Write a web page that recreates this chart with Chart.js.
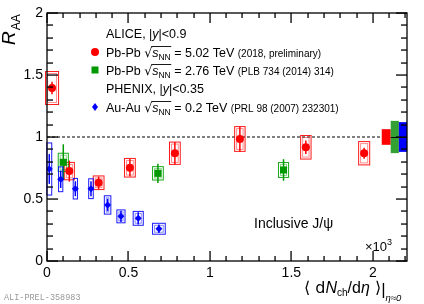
<!DOCTYPE html>
<html>
<head>
<meta charset="utf-8">
<script src="https://cdn.jsdelivr.net/npm/chart.js@4.4.1/dist/chart.umd.min.js"></script>
<style>
  body { margin: 0; background: #fff; }
</style>
</head>
<body>
<canvas id="raaChart" width="424" height="304"></canvas>
<script>
// ALICE Pb-Pb 5.02 TeV (2018, preliminary)
const pb502X = [0.031, 0.137, 0.317, 0.509, 0.785, 1.184, 1.589, 1.947];
const pb502Y = [1.395, 0.725, 0.631, 0.752, 0.869, 0.984, 0.917, 0.869];
const pb502Stat = [0.05, 0.085, 0.05, 0.07, 0.09, 0.1, 0.054, 0.045];
const pb502Sys = [0.133, 0.07, 0.055, 0.075, 0.09, 0.1, 0.095, 0.094];
const pb502SysX = [0.04, 0.031, 0.033, 0.033, 0.033, 0.032, 0.032, 0.034];

// ALICE Pb-Pb 2.76 TeV (PLB 734 (2014) 314)
const pb276X = [0.100, 0.681, 1.452];
const pb276Y = [0.796, 0.707, 0.734];
const pb276Stat = [0.145, 0.077, 0.087];
const pb276Sys = [0.073, 0.054, 0.06];
const pb276SysX = [0.031, 0.033, 0.031];

// PHENIX Au-Au 0.2 TeV (PRL 98 (2007) 232301)
const auauX = [0.014, 0.084, 0.174, 0.270, 0.372, 0.454, 0.560, 0.687];
const auauY = [0.742, 0.659, 0.583, 0.583, 0.452, 0.360, 0.344, 0.260];
const auauStat = [0.12, 0.07, 0.06, 0.06, 0.05, 0.045, 0.05, 0.035];
const auauSys = [0.21, 0.1, 0.083, 0.08, 0.074, 0.052, 0.056, 0.044];
const auauSysX = [0.015, 0.013, 0.013, 0.014, 0.02, 0.025, 0.031, 0.039];

// global (correlated) uncertainties drawn at R_AA = 1
const globalSys = [0.063, 0.13, 0.12];
const globalFrom = [2.055, 2.11, 2.16];
const globalTo = [2.11, 2.16, 2.21];

const xTicks = [0, 0.5, 1, 1.5, 2];
const yTicks = [0, 0.5, 1, 1.5, 2];

const RED = "#ff0000", GREEN = "#009900", BLUE = "#0000ff";
const FONT = '"Liberation Sans", Arial, sans-serif';

function pts(xs, ys) {
  return xs.map((x, i) => ({ x: x, y: ys[i] }));
}

const series = [
  { x: pb502X, y: pb502Y, stat: pb502Stat, sys: pb502Sys, sx: pb502SysX, c: RED, box: "rgba(255,0,0," },
  { x: pb276X, y: pb276Y, stat: pb276Stat, sys: pb276Sys, sx: pb276SysX, c: GREEN, box: "rgba(0,160,0," },
  { x: auauX, y: auauY, stat: auauStat, sys: auauSys, sx: auauSysX, c: BLUE, box: "rgba(0,0,255," },
];

function drawRich(ctx, x, y, segs) {
  segs.forEach(s => {
    ctx.font = s.f;
    ctx.fillText(s.t, x, y + (s.dy || 0));
    s.x0 = x;
    x += ctx.measureText(s.t).width;
    s.x1 = x;
  });
  return segs;
}

function sqrtsLine(ctx, x, y, label, energy, ref) {
  const big = "12.5px " + FONT;
  const segs = drawRich(ctx, x, y, [
    { t: label + " ", f: big },
    { t: "\u221A", f: '12.5px "DejaVu Sans", sans-serif' },
    { t: "s", f: "italic " + big },
    { t: "NN", f: "8.5px " + FONT, dy: 3 },
    { t: " = " + energy + " TeV ", f: big },
    { t: ref, f: "10px " + FONT },
  ]);
  ctx.fillRect(segs[1].x1 - 1, y - 11, segs[3].x1 - segs[1].x1 + 1.5, 0.9);
}

// inward ROOT-style ticks on all four sides
function drawAxisTicks(ctx, a, x, y) {
  ctx.save();
  ctx.fillStyle = "#000";
  const L = Math.round(a.left), R = Math.round(a.right);
  const T = Math.round(a.top), B = Math.round(a.bottom);
  for (let k = 0; k <= 22; k++) {
    const px = Math.round(x.getPixelForValue(k / 10));
    const len = k % 5 === 0 ? 10 : 5;
    ctx.fillRect(px - 0.6, B - len, 1.3, len);
    ctx.fillRect(px - 0.6, T, 1.3, len);
  }
  for (let k = 0; k <= 20; k++) {
    const py = Math.round(y.getPixelForValue(k / 10));
    const len = k % 5 === 0 ? 11 : 6;
    ctx.fillRect(L, py - 0.6, len, 1.3);
    ctx.fillRect(R - len, py - 0.6, len, 1.3);
  }
  ctx.restore();
}

const rootStyle = {
  id: "rootStyle",
  beforeDatasetsDraw(chart) {
    const { ctx, chartArea: a, scales: { x, y } } = chart;
    ctx.save();
    // reference line at 1
    ctx.strokeStyle = "#000";
    ctx.lineWidth = 1;
    ctx.setLineDash([3, 2]);
    ctx.beginPath();
    ctx.moveTo(a.left, y.getPixelForValue(1));
    ctx.lineTo(a.right, y.getPixelForValue(1));
    ctx.stroke();
    ctx.setLineDash([]);
    // systematic boxes and statistical bars
    series.forEach(s => {
      s.x.forEach((xv, i) => {
        const l = x.getPixelForValue(xv - s.sx[i]);
        const r = x.getPixelForValue(xv + s.sx[i]);
        const t = y.getPixelForValue(s.y[i] + s.sys[i]);
        const b = y.getPixelForValue(s.y[i] - s.sys[i]);
        ctx.lineWidth = 1;
        ctx.strokeStyle = s.box + "0.9)";
        ctx.strokeRect(l, t, r - l, b - t);
        if (r - l > 6) {
          ctx.strokeStyle = s.box + "0.45)";
          ctx.strokeRect(l + 2, t + 2, r - l - 4, b - t - 4);
        }
        const px = x.getPixelForValue(xv);
        ctx.strokeStyle = s.c;
        ctx.lineWidth = 1.5;
        ctx.beginPath();
        ctx.moveTo(px, y.getPixelForValue(s.y[i] + s.stat[i]));
        ctx.lineTo(px, y.getPixelForValue(s.y[i] - s.stat[i]));
        ctx.stroke();
      });
    });
    ctx.restore();
  },
  afterDraw(chart) {
    const { ctx, chartArea: a, scales: { x, y } } = chart;
    ctx.save();
    // global uncertainty boxes
    const gCol = [RED, "#33a033", BLUE];
    globalSys.forEach((g, i) => {
      const l = x.getPixelForValue(globalFrom[i]);
      const r = x.getPixelForValue(globalTo[i]);
      const t = y.getPixelForValue(1 + g);
      const b = y.getPixelForValue(1 - g);
      ctx.fillStyle = gCol[i];
      ctx.fillRect(l, t, r - l, b - t);
    });
    ctx.fillStyle = "#000";
    const y1 = Math.round(y.getPixelForValue(1));
    const gx = x.getPixelForValue(globalFrom[1]);
    ctx.fillRect(gx, y1, a.right - gx, 1);

    // frame
    ctx.strokeStyle = "#000";
    ctx.lineWidth = 1.3;
    ctx.strokeRect(a.left, a.top, a.right - a.left, a.bottom - a.top);
    drawAxisTicks(ctx, a, x, y);

    ctx.fillStyle = "#000";
    ctx.textAlign = "left";
    ctx.textBaseline = "alphabetic";

    // legend
    const big = "12.5px " + FONT;
    drawRich(ctx, 106, 38, [
      { t: "ALICE, |", f: big }, { t: "y", f: "italic " + big }, { t: "|<0.9", f: big },
    ]);
    sqrtsLine(ctx, 106, 57, "Pb-Pb", "5.02", "(2018, preliminary)");
    sqrtsLine(ctx, 106, 75, "Pb-Pb", "2.76", "(PLB 734 (2014) 314)");
    drawRich(ctx, 106, 93, [
      { t: "PHENIX, |", f: big }, { t: "y", f: "italic " + big }, { t: "|<0.35", f: big },
    ]);
    sqrtsLine(ctx, 106, 112, "Au-Au", "0.2", "(PRL 98 (2007) 232301)");

    ctx.fillStyle = RED;
    ctx.beginPath(); ctx.arc(95, 52, 4, 0, Math.PI * 2); ctx.fill();
    ctx.fillStyle = GREEN;
    ctx.fillRect(91.5, 66.5, 7, 7);
    ctx.fillStyle = BLUE;
    ctx.beginPath();
    ctx.moveTo(95, 103); ctx.lineTo(98, 107); ctx.lineTo(95, 111); ctx.lineTo(92, 107);
    ctx.closePath(); ctx.fill();

    ctx.fillStyle = "#000";
    // Inclusive J/psi
    ctx.font = "14px " + FONT;
    ctx.fillText("Inclusive J/\u03C8", 254, 228);

    // x10^3
    drawRich(ctx, 365, 251, [
      { t: "\u00D710", f: "13px " + FONT }, { t: "3", f: "9px " + FONT, dy: -6 },
    ]);

    // x title
    const xt = "16px " + FONT;
    drawRich(ctx, 304, 293, [
      { t: "\u27E8 d", f: '16px "DejaVu Sans", sans-serif' },
      { t: "N", f: "italic " + xt },
      { t: "ch", f: "10px " + FONT, dy: 3 },
      { t: "/d", f: xt },
      { t: "\u03B7", f: "italic " + xt },
      { t: " \u27E9", f: '16px "DejaVu Sans", sans-serif' },
      { t: "|", f: "17px " + FONT, dy: 2 },
      { t: "\u03B7\u22480", f: "italic 9.5px " + FONT, dy: 8 },
    ]);

    // y title
    ctx.save();
    ctx.translate(15, 45);
    ctx.rotate(-Math.PI / 2);
    ctx.font = "italic 19px " + FONT;
    ctx.fillText("R", 0, 0);
    const wR = ctx.measureText("R").width;
    ctx.font = "12px " + FONT;
    ctx.fillText("AA", wR + 1, 5);
    ctx.restore();

    // preliminary tag
    ctx.fillStyle = "#999";
    ctx.font = '8.5px "Liberation Mono", "DejaVu Sans Mono", monospace';
    ctx.fillText("ALI-PREL-358983", 4, 300);
    ctx.restore();
  },
};

new Chart(document.getElementById("raaChart"), {
  type: "scatter",
  data: {
    datasets: [
      {
        label: "Pb-Pb 5.02 TeV",
        data: pts(pb502X, pb502Y),
        pointStyle: "circle",
        pointRadius: 4,
        backgroundColor: RED,
        borderWidth: 0,
      },
      {
        label: "Pb-Pb 2.76 TeV",
        data: pts(pb276X, pb276Y),
        pointStyle: "rect",
        pointRadius: 5,
        backgroundColor: GREEN,
        borderWidth: 0,
      },
      {
        label: "Au-Au 0.2 TeV",
        data: pts(auauX, auauY),
        pointStyle: "rectRot",
        pointRadius: 3.5,
        backgroundColor: BLUE,
        borderWidth: 0,
      },
    ],
  },
  options: {
    responsive: false,
    animation: false,
    layout: { padding: { top: 13, right: 17, left: 0, bottom: 0 } },
    plugins: { legend: { display: false }, tooltip: { enabled: false } },
    scales: {
      x: {
        type: "linear",
        min: 0,
        max: 2.21,
        grid: { display: false, drawTicks: false },
        border: { display: false },
        afterBuildTicks: s => { s.ticks = xTicks.map(v => ({ value: v })); },
        afterFit: s => { s.height = 43; },
        ticks: {
          autoSkip: false,
          maxRotation: 0,
          padding: 4,
          color: "#000",
          font: { family: FONT, size: 14 },
          callback: v => String(v),
        },
      },
      y: {
        type: "linear",
        min: 0,
        max: 2,
        grid: { display: false, drawTicks: false },
        border: { display: false },
        afterBuildTicks: s => { s.ticks = yTicks.map(v => ({ value: v })); },
        afterFit: s => { s.width = 47; },
        ticks: {
          padding: 4,
          color: "#000",
          font: { family: FONT, size: 14 },
          callback: v => String(v),
        },
      },
    },
  },
  plugins: [rootStyle],
});
</script>
</body>
</html>
